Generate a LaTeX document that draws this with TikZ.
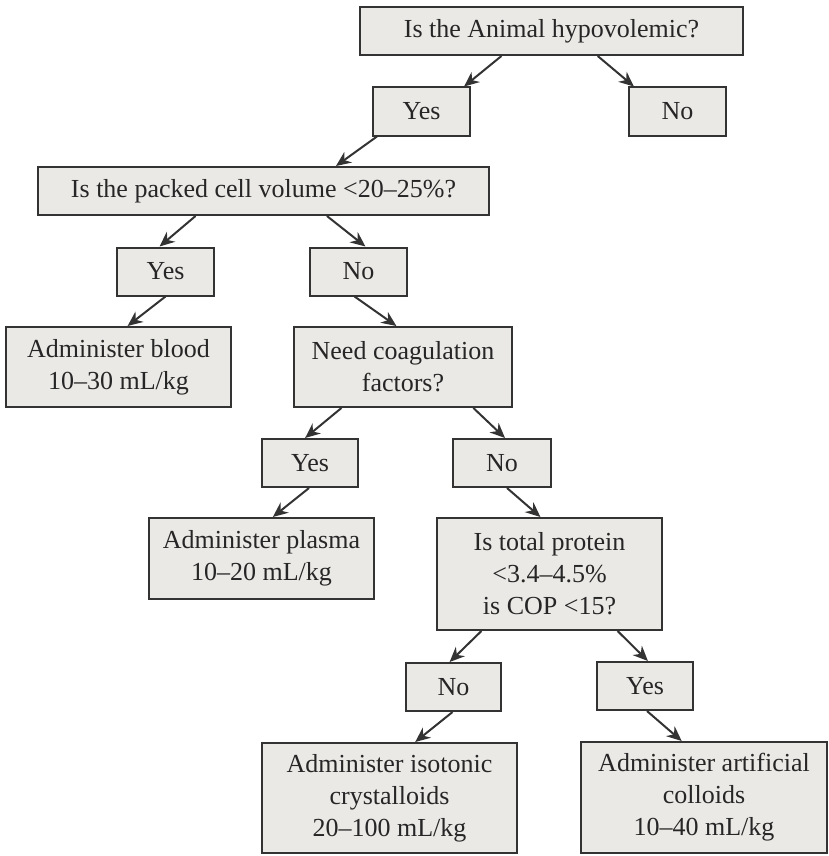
\documentclass[tikz,border=0pt]{standalone}
\usepackage{fontspec}
\setmainfont{Liberation Serif}
\usetikzlibrary{arrows.meta,calc}
\definecolor{boxfill}{HTML}{EBE9E6}
\definecolor{boxline}{HTML}{333333}
\begin{document}
\begin{tikzpicture}[x=1pt,y=-1pt]
		  \tikzset{box/.style={draw=boxline,line width=2pt,fill=boxfill,minimum width=#1,minimum height=48pt,inner sep=0pt,align=center,text=black!85,font=\fontsize{26}{32}\selectfont},
		           arr/.style={draw=boxline,line width=2pt,-{Stealth[length=15pt,width=13pt]}}}
		  \useasboundingbox (0,0) rectangle (828,856);
		
		  \node [box=383] (Q1) at (551.5,31) {Is the Animal hypovolemic?};
		  \node [box=97] (Y1) at (421.5,111.5) {Yes};
		  \node [box=97] (N1) at (677.5,111.5) {No};
		  \node [box=451] (Q2) at (263.5,191) {Is the packed cell volume <20--25\%?};
		  \node [box=97] (Y2) at (165.5,271.5) {Yes};
		  \node [box=97] (N2) at (358.5,271.5) {No};
		  \node [box=225,minimum height=80pt] (blood) at (118.5,367) {Administer blood\\10--30 mL/kg};
		  \node [box=218,minimum height=80pt] (Q3) at (403,367) {Need coagulation\\factors?};
		  \node [box=96] (Y3) at (310,463) {Yes};
		  \node [box=98] (N3) at (502,463) {No};
		  \node [box=225,minimum height=81pt] (plasma) at (261.5,558.5) {Administer plasma\\10--20 mL/kg};
		  \node [box=225,minimum height=112pt] (Q4) at (549.5,574) {Is total protein\\<3.4--4.5\%\\is COP <15?};
		  \node [box=95] (N4) at (453.5,687) {No};
		  \node [box=96] (Y4) at (645,686) {Yes};
		  \node [box=255,minimum height=110pt] (cryst) at (389.5,798) {Administer isotonic\\crystalloids\\20--100 mL/kg};
		  \node [box=246,minimum height=111pt] (coll) at (704,797.5) {Administer artificial\\colloids\\10--40 mL/kg};
		
		  \draw[arr] ($(Q1.south west)!0.37!(Q1.south east)$) -- ($(Y1.north west)!0.93!(Y1.north east)$);
		  \draw[arr] ($(Q1.south west)!0.62!(Q1.south east)$) -- ($(N1.north west)!0.06!(N1.north east)$);
		  \draw[arr] ($(Y1.south west)!0.05!(Y1.south east)$) -- ($(Q2.north west)!0.66!(Q2.north east)$);
		  \draw[arr] ($(Q2.south west)!0.35!(Q2.south east)$) -- ($(Y2.north west)!0.44!(Y2.north east)$);
		  \draw[arr] ($(Q2.south west)!0.64!(Q2.south east)$) -- ($(N2.north west)!0.57!(N2.north east)$);
		  \draw[arr] ($(Y2.south west)!0.50!(Y2.south east)$) -- ($(blood.north west)!0.54!(blood.north east)$);
		  \draw[arr] ($(N2.south west)!0.46!(N2.south east)$) -- ($(Q3.north west)!0.47!(Q3.north east)$);
		  \draw[arr] ($(Q3.south west)!0.22!(Q3.south east)$) -- ($(Y3.north west)!0.45!(Y3.north east)$);
		  \draw[arr] ($(Q3.south west)!0.82!(Q3.south east)$) -- ($(N3.north west)!0.53!(N3.north east)$);
		  \draw[arr] ($(Y3.south west)!0.49!(Y3.south east)$) -- ($(plasma.north west)!0.55!(plasma.north east)$);
		  \draw[arr] ($(N3.south west)!0.55!(N3.south east)$) -- ($(Q4.north west)!0.46!(Q4.north east)$);
		  \draw[arr] ($(Q4.south west)!0.20!(Q4.south east)$) -- ($(N4.north west)!0.46!(N4.north east)$);
		  \draw[arr] ($(Q4.south west)!0.80!(Q4.south east)$) -- ($(Y4.north west)!0.53!(Y4.north east)$);
		  \draw[arr] ($(N4.south west)!0.49!(N4.south east)$) -- ($(cryst.north west)!0.60!(cryst.north east)$);
		  \draw[arr] ($(Y4.south west)!0.52!(Y4.south east)$) -- ($(coll.north west)!0.41!(coll.north east)$);
		\end{tikzpicture}
\end{document}
